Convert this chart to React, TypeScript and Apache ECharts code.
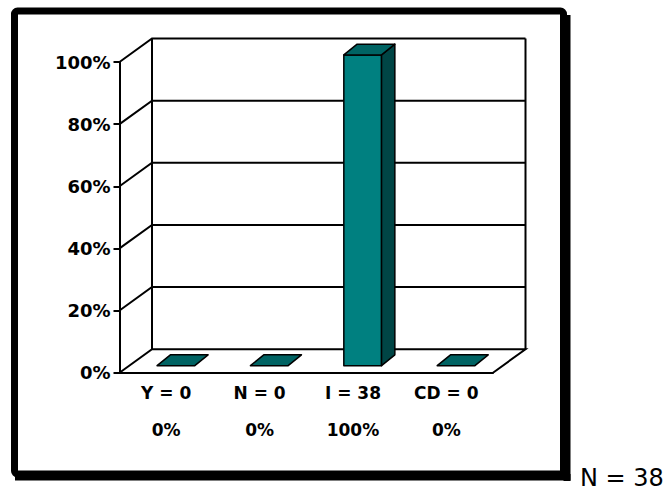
import React, { useEffect, useRef } from "react";
import * as echarts from "echarts";

// ---- data ----
const categories = ["Y", "N", "I", "CD"];
const counts = [0, 0, 38, 0];
const percents = [0, 0, 100, 0];
const yTicks = [0, 20, 40, 60, 80, 100];
const wallEdges = [0, 4]; // left and right edge of the category band range

// ---- styling constants ----
const FONT = "DejaVu Sans";
const DX = 32.5; // depth of floor (x)
const DY = -23.5; // depth of floor (y)
const BAR_F0 = 0.3; // bar front position as fraction of depth
const BDX = 13.3; // bar depth x
const BDY = -10.8; // bar depth y
const BAR_W = 0.404; // bar width as fraction of band
const FRONT = "#008080";
const TOP = "#006363";
const SIDE = "#004545";

export default function App() {
  const ref = useRef<HTMLDivElement>(null);

  useEffect(() => {
    if (!ref.current) return;
    const chart = echarts.init(ref.current, undefined, { renderer: "svg" });
    const total = counts.reduce((a, b) => a + b, 0);
    const yMin = yTicks[0];
    const yMax = yTicks[yTicks.length - 1];

    const option: any = {
      animation: false,
      backgroundColor: "#fff",
      title: {
        text: `N = ${total}`,
        left: 580,
        top: 466,
        padding: 0,
        textStyle: { fontFamily: FONT, fontSize: 24, fontWeight: "normal", color: "#000" },
      },
      grid: { left: 119.5, top: 62, width: 373.5, height: 310.7, containLabel: false },
      xAxis: [
        {
          type: "category",
          data: categories,
          axisLine: { show: true, lineStyle: { color: "#000", width: 2 } },
          axisTick: { show: false },
          axisLabel: {
            margin: 2,
            interval: 0,
            fontFamily: FONT,
            fontSize: 17,
            fontWeight: "bold",
            color: "#000",
            lineHeight: 37,
            formatter: (_v: string, i: number) => `${categories[i]} = ${counts[i]}\n${percents[i]}%`,
          },
          splitLine: { show: false },
        },
        { type: "value", min: 0, max: 4, show: false },
      ],
      yAxis: {
        type: "value",
        min: yMin,
        max: yMax,
        interval: 20,
        axisLine: { show: true, lineStyle: { color: "#000", width: 2 } },
        axisTick: { show: true, length: 6, lineStyle: { color: "#000", width: 2 } },
        axisLabel: {
          margin: 9,
          fontFamily: FONT,
          fontSize: 18,
          fontWeight: "bold",
          color: "#000",
          formatter: "{value}%",
        },
        splitLine: { show: false },
      },
      graphic: [
        {
          type: "rect",
          shape: { x: 563.5, y: 15, width: 7, height: 466 },
          style: { fill: "#000" },
        },
        {
          type: "rect",
          shape: { x: 15, y: 474, width: 555.5, height: 6.5 },
          style: { fill: "#000" },
        },
        {
          type: "rect",
          shape: { x: 14.5, y: 11, width: 549, height: 463, r: 3 },
          style: { fill: null, stroke: "#000", lineWidth: 7 },
        },
      ],
      series: [
        {
          type: "custom",
          name: "walls",
          xAxisIndex: 1,
          clip: false,
          silent: true,
          data: yTicks.map((v) => [0, v]),
          renderItem: (_p: any, api: any) => {
            const v = api.value(1);
            const fl = api.coord([wallEdges[0], v]);
            const fr = api.coord([wallEdges[1], v]);
            const bl = [fl[0] + DX, fl[1] + DY];
            const br = [fr[0] + DX, fr[1] + DY];
            const points = v === yMin ? [fl, bl, br, fr] : [fl, bl, br];
            return {
              type: "polyline",
              shape: { points },
              style: { stroke: "#000", lineWidth: 2, fill: null, lineJoin: "miter" },
            };
          },
        },
        {
          type: "custom",
          name: "wallEdges",
          xAxisIndex: 1,
          clip: false,
          silent: true,
          data: wallEdges.map((x) => [x, yMin]),
          renderItem: (_p: any, api: any) => {
            const x = api.value(0);
            const b = api.coord([x, yMin]);
            const t = api.coord([x, yMax]);
            return {
              type: "line",
              shape: { x1: b[0] + DX, y1: b[1] + DY, x2: t[0] + DX, y2: t[1] + DY },
              style: { stroke: "#000", lineWidth: 2 },
            };
          },
        },
        {
          type: "custom",
          name: "bars",
          xAxisIndex: 0,
          clip: false,
          z: 5,
          data: percents.map((p, i) => [i, p]),
          renderItem: (_p: any, api: any) => {
            const i = api.value(0);
            const v = api.value(1);
            const base = api.coord([i, 0]);
            const top = api.coord([i, v]);
            const bw = api.size([1, 0])[0];
            const w = bw * BAR_W;
            const cx = base[0] + BAR_F0 * DX;
            const yB = base[1] + BAR_F0 * DY;
            const yT = top[1] + BAR_F0 * DY;
            const x0 = cx - w / 2;
            const x1 = cx + w / 2;
            const st = { stroke: "#000", lineWidth: 1.5, lineJoin: "round" };
            const children: any[] = [];
            if (yB - yT > 0.5) {
              children.push({
                type: "polygon",
                shape: { points: [[x0, yT], [x1, yT], [x1, yB], [x0, yB]] },
                style: { ...st, fill: FRONT },
              });
              children.push({
                type: "polygon",
                shape: {
                  points: [[x1, yT], [x1 + BDX, yT + BDY], [x1 + BDX, yB + BDY], [x1, yB]],
                },
                style: { ...st, fill: SIDE },
              });
            }
            children.push({
              type: "polygon",
              shape: {
                points: [[x0, yT], [x0 + BDX, yT + BDY], [x1 + BDX, yT + BDY], [x1, yT]],
              },
              style: { ...st, fill: TOP },
            });
            return { type: "group", children };
          },
        },
      ],
    };

    chart.setOption(option);
    return () => chart.dispose();
  }, []);

  return (
    <div
      ref={ref}
      style={{ position: "fixed", left: 0, top: 0, width: 667, height: 494 }}
    />
  );
}
